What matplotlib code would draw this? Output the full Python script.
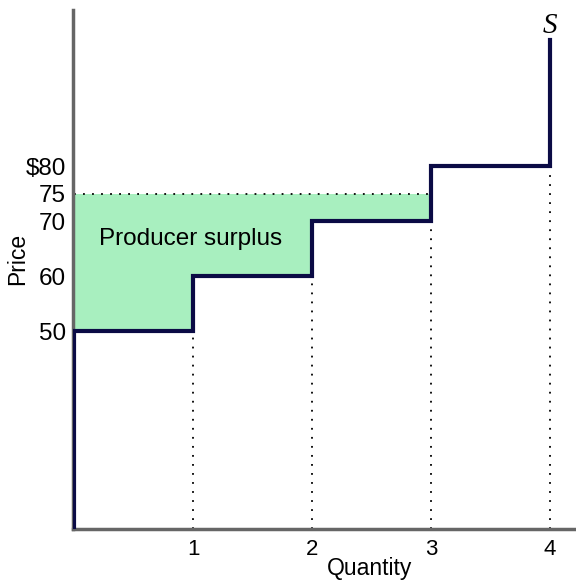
import matplotlib
matplotlib.use("Agg")
import matplotlib.pyplot as plt

# supply steps: quantity and price at each step
quantity = [0, 1, 2, 3, 4]
prices = [50, 60, 70, 80]
market_price = 75
ytick_vals = [50, 60, 70, 75, 80]
ytick_labels = ["50", "60", "70", "75", "$80"]
xtick_vals = [1, 2, 3, 4]
xtick_labels = ["1", "2", "3", "4"]

navy = "#0b0b45"
green = "#a8efbf"

plt.rcParams['font.family'] = ['Liberation Sans', 'DejaVu Sans']

fig = plt.figure(figsize=(5.76, 5.81), dpi=100)
ax = fig.add_axes([0.127, 0.0895, 0.873, 0.8935])
ymin, ymax = 14, 108.4
ax.set_xlim(-0.01, 4.22)
ax.set_ylim(ymin, ymax)

# producer surplus area
fx, fy = [], []
for i in range(3):
    fx += [quantity[i], quantity[i + 1]]
    fy += [prices[i], prices[i]]
ax.fill_between(fx, fy, market_price, color=green, lw=0, zorder=1)
ax.plot([0, 3], [market_price, market_price], ls=(0, (1, 4)), color="black", lw=1.3, zorder=2)

# dotted drops from each step
for i in range(1, 5):
    ax.plot([quantity[i], quantity[i]], [ymin, prices[i - 1]], ls=(0, (1, 4)), color="black", lw=1.3, zorder=2)

# supply curve
sx, sy = [0], [ymin]
for i in range(4):
    sx += [quantity[i], quantity[i + 1]]
    sy += [prices[i], prices[i]]
sx.append(4)
sy.append(103)
ax.plot(sx, sy, color=navy, lw=3, solid_joinstyle="miter", zorder=3)

ax.text(4, 104.2, "S", family="Liberation Serif", style="italic", fontsize=21, ha="center", va="baseline")
ax.text(0.98, 66.7, "Producer surplus", fontsize=17.5, ha="center", va="center")

for s in ["top", "right"]:
    ax.spines[s].set_visible(False)
for s in ["left", "bottom"]:
    ax.spines[s].set_color("#666666")
    ax.spines[s].set_linewidth(2.5)

ax.set_yticks(ytick_vals)
ax.set_yticklabels(ytick_labels, fontsize=17.5)
ax.set_xticks(xtick_vals)
ax.set_xticklabels(xtick_labels, fontsize=16)
ax.tick_params(axis="y", length=0, pad=5)
ax.tick_params(axis="x", length=0, pad=7)
ax.set_xlabel("Quantity", fontsize=16.5)
ax.xaxis.set_label_coords(0.59, -0.054)
ax.set_ylabel("Price", fontsize=16.5)
ax.yaxis.set_label_coords(-0.087, 0.52)

fig.savefig("out.png", dpi=100)
